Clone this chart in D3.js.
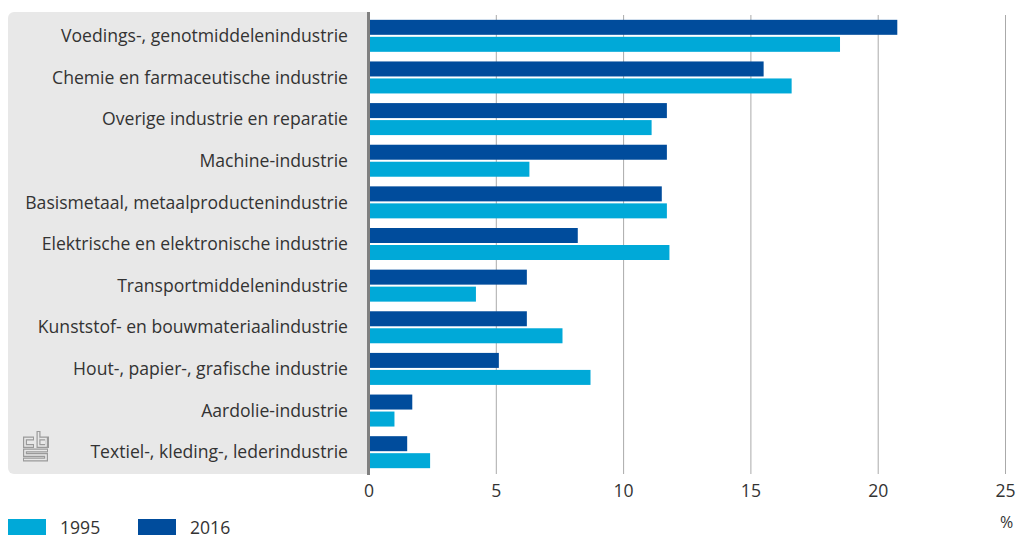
<!DOCTYPE html>
<html>
<head>
<meta charset="utf-8">
<script src="https://cdn.jsdelivr.net/npm/d3@7"></script>
<style>
  body { margin: 0; background: #fff; }
  text { font-family: "Open Sans", sans-serif; fill: #333; }
</style>
</head>
<body>
<div id="chart"></div>
<script>
// Categories, top to bottom.
var categories = [
    "Voedings-, genotmiddelenindustrie",
    "Chemie en farmaceutische industrie",
    "Overige industrie en reparatie",
    "Machine-industrie",
    "Basismetaal, metaalproductenindustrie",
    "Elektrische en elektronische industrie",
    "Transportmiddelenindustrie",
    "Kunststof- en bouwmateriaalindustrie",
    "Hout-, papier-, grafische industrie",
    "Aardolie-industrie",
    "Textiel-, kleding-, lederindustrie"
];
var values2016 = [20.75, 15.5, 11.7, 11.7, 11.5, 8.2, 6.2, 6.2, 5.1, 1.7, 1.5];
var values1995 = [18.5, 16.6, 11.1, 6.3, 11.7, 11.8, 4.2, 7.6, 8.7, 1.0, 2.4];
var xTicks = [0, 5, 10, 15, 20, 25];
var seriesNames = ["1995", "2016"];
var colors = { "1995": "#00a9d8", "2016": "#004c9c" };

var width = 1016;
var height = 537;
var fontSize = "17.6px";

var svg = d3.select("#chart").append("svg")
    .attr("width", width)
    .attr("height", height);

var x = d3.scaleLinear().domain([0, 25]).range([369, 1005.5]);
var y = d3.scaleBand().domain(categories).range([15, 473]);

// Grey label panel, rounded on the left only.
svg.append("rect")
    .attr("x", 8).attr("y", 12)
    .attr("width", 370).attr("height", 462)
    .attr("rx", 6)
    .attr("fill", "#e8e8e8");
svg.append("rect")
    .attr("x", 369).attr("y", 10)
    .attr("width", 20).attr("height", 470)
    .attr("fill", "#fff");

// Gridlines.
svg.selectAll("line.grid")
    .data(xTicks.slice(1))
    .enter().append("line")
    .attr("class", "grid")
    .attr("x1", function(d) { return x(d); })
    .attr("x2", function(d) { return x(d); })
    .attr("y1", 15).attr("y2", 474)
    .attr("stroke", "#aaa")
    .attr("stroke-width", 1);

// Bars: 2016 on top, 1995 below.
var groups = svg.selectAll("g.cat")
    .data(categories)
    .enter().append("g")
    .attr("class", "cat");

groups.append("rect")
    .attr("x", x(0) + 1)
    .attr("y", function(d) { return y(d) + y.bandwidth() / 2 - 16; })
    .attr("width", function(d, i) { return x(values2016[i]) - x(0) - 1; })
    .attr("height", 15)
    .attr("fill", colors["2016"]);

groups.append("rect")
    .attr("x", x(0) + 1)
    .attr("y", function(d) { return y(d) + y.bandwidth() / 2 + 1; })
    .attr("width", function(d, i) { return x(values1995[i]) - x(0) - 1; })
    .attr("height", 15)
    .attr("fill", colors["1995"]);

// Category labels.
groups.append("text")
    .attr("x", 348)
    .attr("y", function(d) { return y(d) + y.bandwidth() / 2; })
    .attr("dy", "0.35em")
    .attr("text-anchor", "end")
    .style("font-size", fontSize)
    .text(function(d) { return d; });

// Axis line.
svg.append("line")
    .attr("x1", x(0) - 0.5).attr("x2", x(0) - 0.5)
    .attr("y1", 12).attr("y2", 475)
    .attr("stroke", "#808080")
    .attr("stroke-width", 3);

// Tick labels.
svg.selectAll("text.tick")
    .data(xTicks)
    .enter().append("text")
    .attr("class", "tick")
    .attr("x", function(d) { return x(d); })
    .attr("y", 497)
    .attr("text-anchor", "middle")
    .style("font-size", fontSize)
    .text(function(d) { return d; });

svg.append("text")
    .attr("x", x(25) + 1)
    .attr("y", 528)
    .attr("text-anchor", "middle")
    .style("font-size", "16px")
    .text("%");

// Legend.
var legend = svg.selectAll("g.legend")
    .data(seriesNames)
    .enter().append("g")
    .attr("class", "legend")
    .attr("transform", function(d, i) { return "translate(" + (8 + i * 130) + ",519)"; });
legend.append("rect")
    .attr("width", 38).attr("height", 16)
    .attr("fill", function(d) { return colors[d]; });
legend.append("text")
    .attr("x", 52).attr("y", 15)
    .style("font-size", fontSize)
    .text(function(d) { return d; });

// CBS logo: thick grey strokes with a thin panel-coloured core give the outlined look.
var logo = svg.append("g")
    .attr("transform", "translate(23,431)")
    .attr("fill", "none");
var logoOuter = [
    "M11,7.5 H2 V15 H11",
    "M15.5,0 V15 H24 V7.5 H14",
    "M25,19.5 H2 V24 H23 V28.5 H0"
];
var logoInner = [
    "M10,7.5 H2 V15 H10",
    "M15.5,1 V15 H23 V7.5 H16.5",
    "M24,19.5 H2 V24 H23 V28.5 H1"
];
logo.selectAll("path.outer")
    .data(logoOuter)
    .enter().append("path")
    .attr("d", function(d) { return d; })
    .attr("stroke", "#9a9a9a")
    .attr("stroke-width", 4);
logo.selectAll("path.inner")
    .data(logoInner)
    .enter().append("path")
    .attr("d", function(d) { return d; })
    .attr("stroke", "#e8e8e8")
    .attr("stroke-width", 1.6);
</script>
</body>
</html>
